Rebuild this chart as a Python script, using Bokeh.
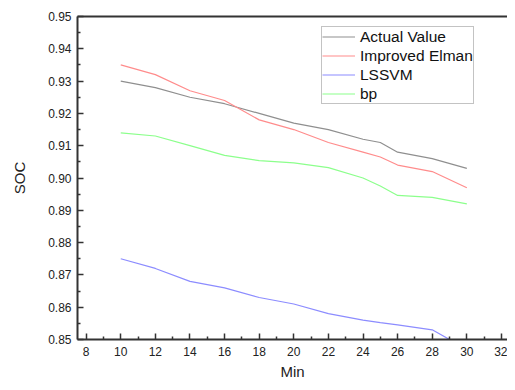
from bokeh.plotting import figure
from bokeh.models import (Range1d, LinearAxis, FixedTicker,
                          PrintfTickFormatter, Legend, LegendItem)
from bokeh.embed import file_html
from bokeh.resources import INLINE

# data
minutes = [10, 12, 14, 16, 18, 20, 22, 24, 25, 26, 28, 30]
actual = [0.930, 0.928, 0.925, 0.923, 0.920, 0.917, 0.915, 0.912, 0.911, 0.908, 0.906, 0.903]
elman = [0.935, 0.932, 0.927, 0.924, 0.918, 0.915, 0.911, 0.908, 0.9065, 0.904, 0.902, 0.897]
lssvm = [0.875, 0.872, 0.868, 0.866, 0.863, 0.861, 0.858, 0.856, 0.8552, 0.8545, 0.853, 0.847]
bp = [0.914, 0.913, 0.910, 0.907, 0.9054, 0.9047, 0.9032, 0.900, 0.8975, 0.8946, 0.894, 0.892]
series_names = ["Actual Value", "Improved Elman", "LSSVM", "bp"]
x_ticks = [8, 10, 12, 14, 16, 18, 20, 22, 24, 26, 28, 30, 32]
x_minor = [9, 11, 13, 15, 17, 19, 21, 23, 25, 27, 29, 31]
y_ticks = [0.85, 0.86, 0.87, 0.88, 0.89, 0.90, 0.91, 0.92, 0.93, 0.94, 0.95]
y_minor = [0.855, 0.865, 0.875, 0.885, 0.895, 0.905, 0.915, 0.925, 0.935, 0.945]
colors = ["#8f8f8f", "#ff8c8c", "#8c8cff", "#8cff8c"]

FONT = "Liberation Sans"
AX = "#333333"

p = figure(width=507, height=382, output_backend="svg", toolbar_location=None,
           x_range=Range1d(7.5, 32.35), y_range=Range1d(0.85, 0.95),
           min_border_left=77, min_border_right=0, min_border_top=16, min_border_bottom=42,
           x_axis_label="Min", y_axis_label="SOC")
p.outline_line_color = None
p.grid.visible = False
p.background_fill_color = "white"
p.border_fill_color = "white"

renderers = []
for ys, c in zip([actual, elman, lssvm, bp], colors):
    renderers.append(p.line(minutes, ys, line_color=c, line_width=1.2))

xa = p.xaxis[0]
xa.ticker = FixedTicker(ticks=x_ticks, minor_ticks=x_minor)
ya = p.yaxis[0]
ya.ticker = FixedTicker(ticks=y_ticks, minor_ticks=y_minor)
ya.formatter = PrintfTickFormatter(format="%.2f")

for ax in (xa, ya):
    ax.axis_line_color = AX
    ax.axis_line_width = 2
    ax.major_tick_line_color = AX
    ax.minor_tick_line_color = AX
    ax.major_tick_line_width = 1.5
    ax.minor_tick_line_width = 1.5
    ax.major_tick_in = 6
    ax.major_tick_out = 0
    ax.minor_tick_in = 3
    ax.minor_tick_out = 0
    ax.major_label_text_font = FONT
    ax.major_label_text_font_size = "12px"
    ax.major_label_text_color = "#222222"
    ax.axis_label_text_font = FONT
    ax.axis_label_text_font_size = "15px"
    ax.axis_label_text_font_style = "normal"
    ax.axis_label_text_color = "#222222"

xa.major_label_standoff = 7
xa.axis_label_standoff = 4
ya.major_label_standoff = 6
ya.axis_label_standoff = 17

top = LinearAxis(ticker=FixedTicker(ticks=[]), axis_line_color=AX, axis_line_width=2,
                 major_tick_in=0, major_tick_out=0, minor_tick_in=0, minor_tick_out=0,
                 major_label_standoff=0)
p.add_layout(top, "above")

legend = Legend(items=[LegendItem(label=n, renderers=[r]) for n, r in zip(series_names, renderers)],
                location=(244, 235), orientation="vertical")
legend.label_text_font = FONT
legend.label_text_font_size = "15.5px"
legend.label_text_color = "#111111"
legend.label_height = 19
legend.glyph_height = 19
legend.glyph_width = 33
legend.label_standoff = 5
legend.padding = 0
legend.spacing = 0
legend.margin = 0
legend.border_line_color = "#888888"
legend.border_line_width = 1
legend.background_fill_alpha = 1
p.add_layout(legend, "center")

open("out.html", "w").write(file_html(p, INLINE))
